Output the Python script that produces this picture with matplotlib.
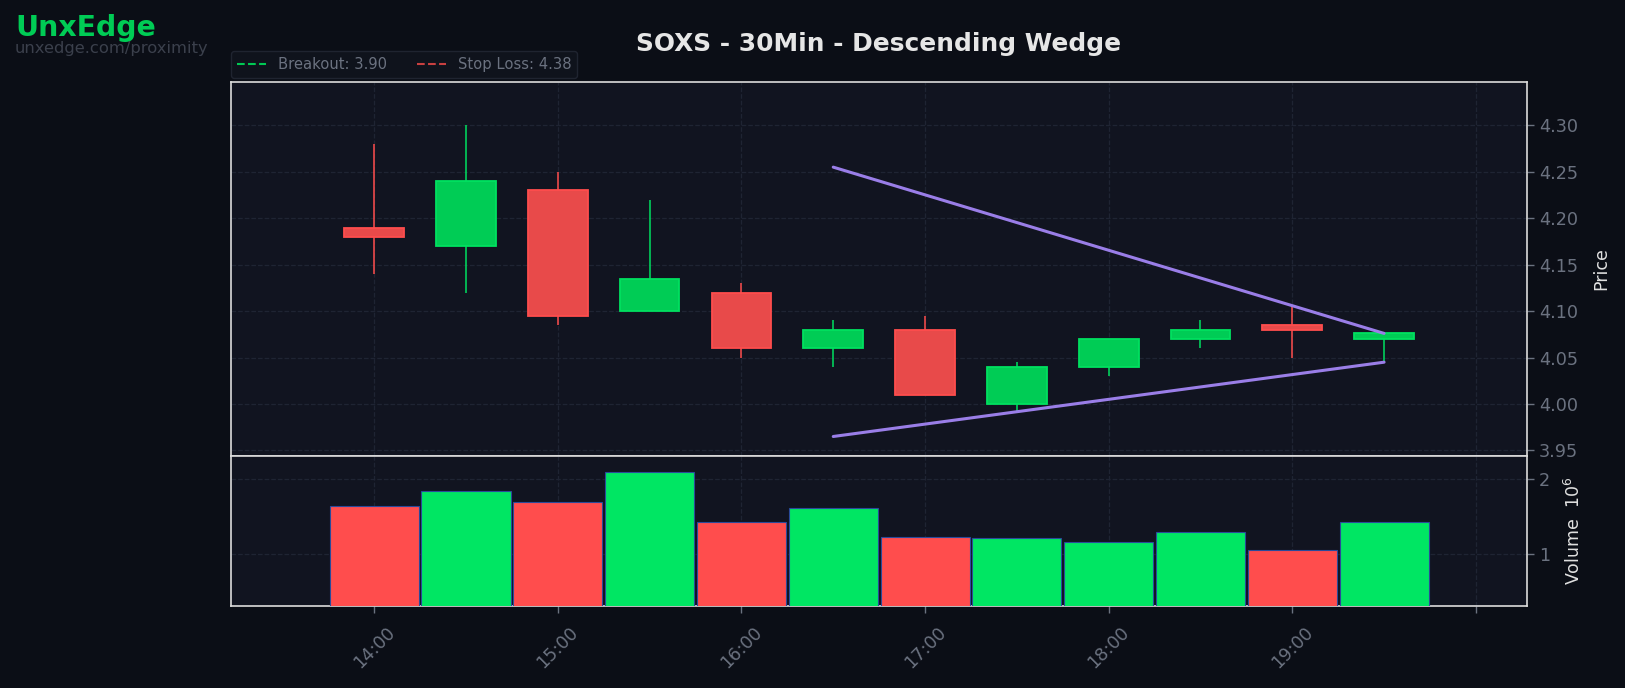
import matplotlib
matplotlib.use("Agg")
import matplotlib.pyplot as plt
import numpy as np
from matplotlib.ticker import FuncFormatter, FixedLocator

# ---- data ----
times = ["14:00", "14:30", "15:00", "15:30", "16:00", "16:30",
         "17:00", "17:30", "18:00", "18:30", "19:00", "19:30"]
opens  = [4.190, 4.170, 4.230, 4.100, 4.120, 4.060, 4.080, 4.000, 4.040, 4.070, 4.085, 4.070]
highs  = [4.280, 4.300, 4.250, 4.220, 4.130, 4.090, 4.095, 4.045, 4.070, 4.090, 4.105, 4.076]
lows   = [4.140, 4.120, 4.085, 4.100, 4.050, 4.040, 4.010, 3.990, 4.030, 4.060, 4.050, 4.045]
closes = [4.180, 4.240, 4.095, 4.135, 4.060, 4.080, 4.010, 4.040, 4.070, 4.080, 4.080, 4.076]
volumes = [1640000, 1833000, 1695000, 2094000, 1420000, 1612000,
           1227000, 1214000, 1158000, 1296000, 1048000, 1420000]

upper_line_times = ["16:30", "19:30"]
upper_line_prices = [4.255, 4.076]
lower_line_times = ["16:30", "19:30"]
lower_line_prices = [3.965, 4.045]

breakout = 3.90
stop_loss = 4.38

title = "SOXS - 30Min - Descending Wedge"
tick_labels = ["14:00", "15:00", "16:00", "17:00", "18:00", "19:00", ""]

# ---- style ----
FIG_BG = "#0b0e16"
AX_BG = "#111420"
GRID = "#1f2433"
SPINE = "#dcdcdc"
TICK_TXT = "#6b7280"
LABEL_TXT = "#e0e0e0"
UP_FILL, UP_EDGE = "#00cc55", "#00e060"
DN_FILL, DN_EDGE = "#e84a4a", "#ff4d4d"
VOL_UP, VOL_DN = "#00e663", "#ff4d4d"
WEDGE = "#9a7ee8"

plt.rcParams["font.family"] = ["DejaVu Sans"]

fig = plt.figure(figsize=(16.25, 6.8801), dpi=100, facecolor=FIG_BG)
left, width = 231 / 1625, (1527.3 - 231) / 1625
ax = fig.add_axes([left, 1 - 456 / 688, width, (456 - 81.7) / 688])
axv = fig.add_axes([left, 1 - 605.7 / 688, width, (605.7 - 456) / 688], sharex=ax)

x = np.arange(len(times))
idx = {t: i for i, t in enumerate(times)}
o, h, l, c = map(np.array, (opens, highs, lows, closes))
up = c >= o

# wicks
ax.vlines(x, l, h, colors=np.where(up, UP_EDGE, DN_EDGE), linewidth=1.1, zorder=2)
# bodies
ax.bar(x, np.abs(c - o), bottom=np.minimum(o, c), width=0.65,
       color=np.where(up, UP_FILL, DN_FILL), edgecolor=np.where(up, UP_EDGE, DN_EDGE),
       linewidth=1.3, zorder=3)

# wedge lines
ax.plot([idx[t] for t in upper_line_times], upper_line_prices, color=WEDGE, lw=2.2,
        solid_capstyle="round", zorder=4)
ax.plot([idx[t] for t in lower_line_times], lower_line_prices, color=WEDGE, lw=2.2,
        solid_capstyle="round", zorder=4)

# breakout / stop loss (out of view but in legend)
ax.axhline(breakout, color="#00c853", ls="--", lw=1.5, label=f"Breakout: {breakout:.2f}")
ax.axhline(stop_loss, color="#c84040", ls="--", lw=1.5, label=f"Stop Loss: {stop_loss:.2f}")

ax.set_ylim(3.944, 4.347)
ax.set_xlim(-1.56, len(times) - 1 + 1.56)

# volume
axv.bar(x, volumes, width=0.97, color=np.where(up, VOL_UP, VOL_DN),
        edgecolor="#2a4a9a", linewidth=0.8, zorder=3)
axv.set_ylim(0.3 * min(volumes), 1.1 * max(volumes))
axv.yaxis.set_major_locator(FixedLocator([1e6, 2e6]))
axv.yaxis.set_major_formatter(FuncFormatter(lambda v, p: f"{v/1e6:g}"))

for a in (ax, axv):
    a.set_facecolor(AX_BG)
    a.grid(True, color=GRID, ls="--", lw=0.9)
    a.set_axisbelow(True)
    for s in a.spines.values():
        s.set_color(SPINE)
        s.set_linewidth(1.2)
    a.yaxis.tick_right()
    a.yaxis.set_label_position("right")
    a.tick_params(colors=TICK_TXT, labelsize=12.7, length=4.8, width=1)

ax.set_yticks([3.95, 4.00, 4.05, 4.10, 4.15, 4.20, 4.25, 4.30])
ax.yaxis.set_major_formatter(FuncFormatter(lambda v, p: f"{v:.2f}"))
ax.tick_params(axis="x", labelbottom=False, length=0)

axv.set_xticks(np.arange(0, len(times) + 1, 2))
axv.set_xticklabels(tick_labels, rotation=45, ha="center")
axv.tick_params(axis="x", pad=8)

ax.set_ylabel("Price", color=LABEL_TXT, fontsize=12.5, labelpad=10)
axv.set_ylabel("Volume  $10^{6}$", color=LABEL_TXT, fontsize=12.5, labelpad=10)

leg = ax.legend(loc="lower left", bbox_to_anchor=(0, 1.011), borderaxespad=0, ncol=2,
                fontsize=10.6, frameon=True, facecolor="#0f131c", edgecolor="#1f2430",
                framealpha=1, labelcolor=TICK_TXT)

fig.text(879 / 1625, 1 - 50.7 / 688, title, ha="center", va="baseline",
         fontsize=17.9, fontweight="bold", color="#e6e6e6")
fig.text(15.5 / 1625, 1 - 36 / 688, "UnxEdge", ha="left", va="baseline",
         fontsize=20.4, fontweight="bold", color="#00cc55")
fig.text(14.5 / 1625, 1 - 53.3 / 688, "unxedge.com/proximity", ha="left", va="baseline",
         fontsize=11.8, color="#3b404c")

fig.savefig("out.png", dpi=100, facecolor=FIG_BG)
